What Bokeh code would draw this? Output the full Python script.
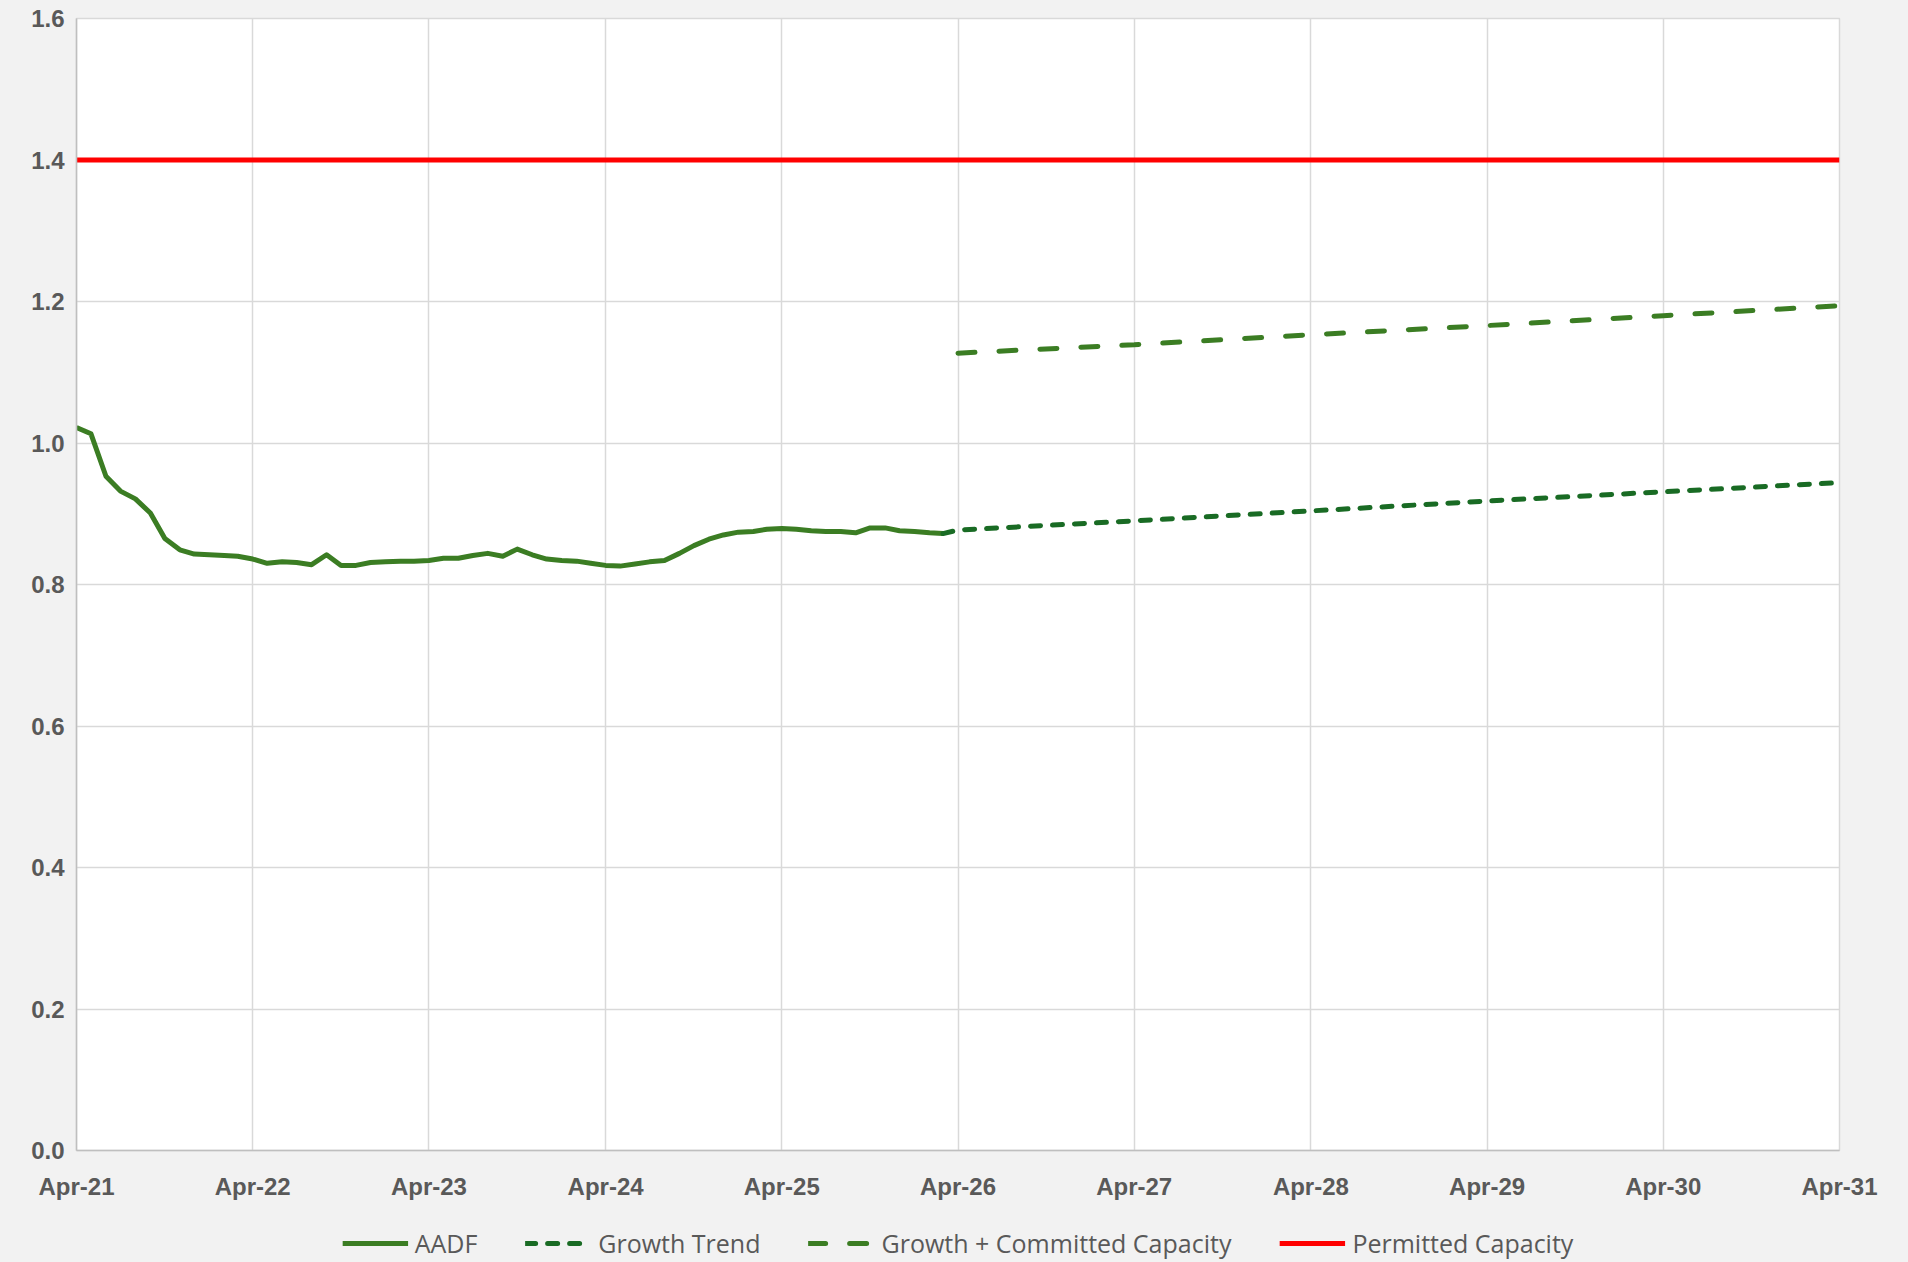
import pandas as pd
from datetime import datetime
from bokeh.plotting import figure
from bokeh.layouts import column
from bokeh.models import (Range1d, FixedTicker, NumeralTickFormatter, Legend, LegendItem,
                          CustomJSTickFormatter)
from bokeh.embed import file_html
from bokeh.resources import INLINE

# ---------------- data ----------------
aadf_start = "2021-04-01"
aadf_values = [1.022, 1.013, 0.953, 0.932, 0.921, 0.901, 0.865, 0.849, 0.843, 0.842,
               0.841, 0.840, 0.836, 0.830, 0.832, 0.831, 0.828, 0.842, 0.827, 0.827,
               0.831, 0.832, 0.833, 0.833, 0.834, 0.837, 0.837, 0.841, 0.844, 0.840,
               0.850, 0.842, 0.836, 0.834, 0.833, 0.830, 0.827, 0.826, 0.829, 0.832,
               0.834, 0.844, 0.855, 0.864, 0.870, 0.874, 0.875, 0.878, 0.879, 0.878,
               0.876, 0.875, 0.875, 0.873, 0.880, 0.880, 0.876, 0.875, 0.873, 0.872]
aadf_dates = list(pd.date_range(aadf_start, periods=len(aadf_values), freq="MS"))

trend_dates = ["2026-03-01", "2026-04-01", "2027-04-01", "2028-04-01", "2029-04-01",
               "2030-04-01", "2031-04-01"]
trend_values = [0.872, 0.877, 0.890, 0.904, 0.918, 0.931, 0.944]

committed_dates = ["2026-04-01", "2027-04-01", "2028-04-01", "2029-04-01",
                   "2030-04-01", "2031-04-01"]
committed_values = [1.127, 1.139, 1.153, 1.166, 1.180, 1.194]

permitted_dates = ["2021-04-01", "2031-04-01"]
permitted_values = [1.4, 1.4]

tick_labels = ["Apr-21", "Apr-22", "Apr-23", "Apr-24", "Apr-25", "Apr-26",
               "Apr-27", "Apr-28", "Apr-29", "Apr-30", "Apr-31"]
y_ticks = [0.0, 0.2, 0.4, 0.6, 0.8, 1.0, 1.2, 1.4, 1.6]

series_names = ["AADF", "Growth Trend", "Growth + Committed Capacity", "Permitted Capacity"]

# ---------------- styles ----------------
styles = [dict(line_color="#3B7D23", line_width=5, line_join="round"),
          dict(line_color="#196B24", line_width=5, line_dash="10 12", line_cap="round"),
          dict(line_color="#3B7D23", line_width=5, line_dash="17 24", line_cap="round"),
          dict(line_color="#FF0000", line_width=5)]

# ---------------- main figure ----------------
def ts(d):
    return pd.Timestamp(d).to_pydatetime()

series = [([ts(d) for d in aadf_dates], aadf_values),
          ([ts(d) for d in trend_dates], trend_values),
          ([ts(d) for d in committed_dates], committed_values),
          ([ts(d) for d in permitted_dates], permitted_values)]

tick_dates = [datetime(2000 + int(t[-2:]), 4, 1) for t in tick_labels]
tick_ms = [pd.Timestamp(d).value / 1e6 for d in tick_dates]

p = figure(frame_width=1763, frame_height=1132, x_axis_type="datetime",
           x_range=Range1d(tick_dates[0], tick_dates[-1]),
           y_range=Range1d(0, 1.6),
           output_backend="svg", toolbar_location=None,
           min_border_left=76, min_border_right=69, min_border_top=18,
           min_border_bottom=56)

p.background_fill_color = "white"
p.border_fill_color = "#F2F2F2"
p.outline_line_color = "#D9D9D9"
p.outline_line_width = 1.5

p.xgrid.grid_line_color = "#D9D9D9"
p.ygrid.grid_line_color = "#D9D9D9"
p.xgrid.grid_line_width = 1.5
p.ygrid.grid_line_width = 1.5

p.xaxis.ticker = FixedTicker(ticks=tick_ms)
p.xaxis.formatter = CustomJSTickFormatter(args=dict(labs=tick_labels, tvals=tick_ms), code="""
    let best = 0, bd = Infinity;
    for (let i = 0; i < tvals.length; i++) { const d = Math.abs(tvals[i] - tick); if (d < bd) { bd = d; best = i; } }
    return labs[best];
""")
p.yaxis.ticker = FixedTicker(ticks=y_ticks)
p.yaxis.formatter = NumeralTickFormatter(format="0.0")

for ax in (p.xaxis[0], p.yaxis[0]):
    ax.major_tick_line_color = None
    ax.minor_tick_line_color = None
    ax.major_tick_out = 0
    ax.major_tick_in = 0
    ax.axis_line_color = "#BFBFBF"
    ax.axis_line_width = 1.5
    ax.major_label_text_font = "Liberation Sans"
    ax.major_label_text_font_style = "bold"
    ax.major_label_text_font_size = "24px"
    ax.major_label_text_color = "#595959"
p.xaxis.major_label_standoff = 22
p.yaxis.major_label_standoff = 12

for (xs, ys), s in zip(series, styles):
    p.line(xs, ys, **s)

# ---------------- legend strip ----------------
# same series drawn again, but with a y range that keeps them out of view,
# so that only their legend glyphs show
lg = figure(width=1908, height=56, x_axis_type="datetime",
            x_range=Range1d(tick_dates[0], tick_dates[-1]), y_range=Range1d(10, 11),
            x_axis_location=None, y_axis_location=None,
            output_backend="svg", toolbar_location=None,
            min_border_left=0, min_border_right=0, min_border_top=0, min_border_bottom=0)
lg.grid.visible = False
lg.outline_line_color = None
lg.background_fill_color = "#F2F2F2"
lg.border_fill_color = "#F2F2F2"

leg_renderers = [lg.line(xs, ys, **s) for (xs, ys), s in zip(series, styles)]
legend = Legend(items=[LegendItem(label=n, renderers=[r]) for n, r in
                       zip(series_names, leg_renderers)],
                orientation="horizontal", location="bottom_center",
                glyph_width=66, glyph_height=20, label_standoff=7, spacing=48,
                padding=0, margin=2,
                label_text_font="Open Sans", label_text_font_size="25px",
                label_text_color="#595959",
                background_fill_alpha=0, border_line_color=None)
lg.add_layout(legend, "center")

page = column(p, lg, spacing=0)

html = file_html(page, INLINE)
html = html.replace("<head>", "<head><style>body{background:#F2F2F2;margin:0;}</style>", 1)
open("out.html", "w").write(html)
